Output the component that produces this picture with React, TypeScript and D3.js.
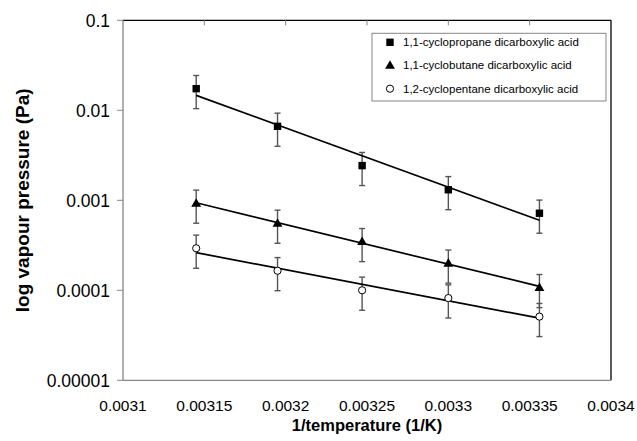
import React, { useRef, useEffect } from "react";
import * as d3 from "d3";

// 1/T for T = 318, 313, 308, 303, 298 K
const invTemp = [0.003145, 0.003195, 0.003247, 0.0033, 0.003356];

const cyclopropane = [0.0174, 0.00664, 0.00243, 0.00131, 0.000718];
const cyclobutane = [0.000927, 0.000555, 0.000347, 0.0002, 0.000107];
const cyclopentane = [0.000293, 0.000165, 0.0001, 0.000082, 0.000051];

const relErr = 0.4;

const xTicks = [0.0031, 0.00315, 0.0032, 0.00325, 0.0033, 0.00335, 0.0034];
const xTickLabels = ["0.0031", "0.00315", "0.0032", "0.00325", "0.0033", "0.00335", "0.0034"];
const yTicks = [0.1, 0.01, 0.001, 0.0001, 0.00001];
const yTickLabels = ["0.1", "0.01", "0.001", "0.0001", "0.00001"];

const seriesNames = [
    "1,1-cyclopropane dicarboxylic acid",
    "1,1-cyclobutane dicarboxylic acid",
    "1,2-cyclopentane dicarboxylic acid",
];
const seriesMarkers = ["square", "triangle", "circle"];

const App: React.FC = () => {
    const svgRef = useRef<SVGSVGElement | null>(null);

    useEffect(() => {
        if (!svgRef.current) return;

        const width = 637;
        const height = 441;
        const left = 123, right = 611, top = 20.3, bottom = 380.3;
        const font = "'Liberation Sans', Arial, sans-serif";

        const x = d3.scaleLinear().domain([0.0031, 0.0034]).range([left, right]);
        const y = d3.scaleLog().domain([0.00001, 0.1]).range([bottom, top]);

        const svg = d3.select(svgRef.current)
            .attr("width", width)
            .attr("height", height)
            .attr("viewBox", `0 0 ${width} ${height}`)
            .style("font-family", font);

        svg.selectAll("*").remove();

        svg.append("rect").attr("width", width).attr("height", height).attr("fill", "#fff");

        // plot frame
        svg.append("line").attr("x1", left).attr("x2", right).attr("y1", top).attr("y2", top)
            .attr("stroke", "#000").attr("stroke-width", 1.3);
        svg.append("line").attr("x1", right).attr("x2", right).attr("y1", top).attr("y2", bottom)
            .attr("stroke", "#000").attr("stroke-width", 1.3);
        svg.append("line").attr("x1", left).attr("x2", left).attr("y1", top).attr("y2", bottom)
            .attr("stroke", "#868686").attr("stroke-width", 1.3);
        svg.append("line").attr("x1", left).attr("x2", right).attr("y1", bottom).attr("y2", bottom)
            .attr("stroke", "#868686").attr("stroke-width", 1.3);

        // x ticks (on top edge, pointing in)
        svg.append("g").selectAll("line").data(xTicks.slice(1, -1)).join("line")
            .attr("x1", d => x(d)).attr("x2", d => x(d))
            .attr("y1", top).attr("y2", top + 5)
            .attr("stroke", "#868686").attr("stroke-width", 1);

        svg.append("g").selectAll("text").data(xTicks).join("text")
            .attr("x", d => x(d)).attr("y", 410.7)
            .attr("text-anchor", "middle")
            .attr("font-size", 15.5)
            .attr("fill", "#000")
            .text((_, i) => xTickLabels[i]);

        // y ticks
        svg.append("g").selectAll("line").data(yTicks).join("line")
            .attr("x1", left - 6).attr("x2", left)
            .attr("y1", d => y(d)).attr("y2", d => y(d))
            .attr("stroke", "#868686").attr("stroke-width", 1);

        svg.append("g").selectAll("text").data(yTicks).join("text")
            .attr("x", 110).attr("y", d => y(d) + 6.3)
            .attr("text-anchor", "end")
            .attr("font-size", 17.5)
            .attr("fill", "#000")
            .text((_, i) => yTickLabels[i]);

        // axis titles
        svg.append("text")
            .attr("x", (left + right) / 2).attr("y", 431)
            .attr("text-anchor", "middle")
            .attr("font-size", 16.5).attr("font-weight", "bold")
            .text("1/temperature (1/K)");

        svg.append("text")
            .attr("transform", `translate(29,${(top + bottom) / 2}) rotate(-90)`)
            .attr("text-anchor", "middle")
            .attr("font-size", 19).attr("font-weight", "bold")
            .text("log vapour pressure (Pa)");

        const allSeries = [cyclopropane, cyclobutane, cyclopentane];

        const drawMarker = (g: d3.Selection<SVGGElement, unknown, null, undefined>, kind: string, cx: number, cy: number) => {
            if (kind === "square") {
                g.append("rect").attr("x", cx - 3.7).attr("y", cy - 3.7).attr("width", 7.4).attr("height", 7.4)
                    .attr("fill", "#000");
            } else if (kind === "triangle") {
                g.append("path").attr("d", d3.symbol(d3.symbolTriangle, 42)())
                    .attr("transform", `translate(${cx},${cy + 0.6})`).attr("fill", "#000");
            } else {
                g.append("circle").attr("cx", cx).attr("cy", cy).attr("r", 3.6)
                    .attr("fill", "#fff").attr("stroke", "#000").attr("stroke-width", 1);
            }
        };

        const plot = svg.append("g");

        allSeries.forEach((vals, s) => {
            // exponential (log-linear) regression
            const logs = vals.map(v => Math.log10(v));
            const mx = d3.mean(invTemp)!;
            const my = d3.mean(logs)!;
            const sxy = d3.sum(invTemp, (xv, i) => (xv - mx) * (logs[i] - my));
            const sxx = d3.sum(invTemp, xv => (xv - mx) ** 2);
            const slope = sxy / sxx;
            const icpt = my - slope * mx;
            const x0 = invTemp[0], x1 = invTemp[invTemp.length - 1];
            const fit: [number, number][] = [x0, x1].map(xv => [x(xv), y(10 ** (icpt + slope * xv))]);

            // error bars
            const eb = plot.append("g").attr("stroke", "#555").attr("stroke-width", 1.4);
            vals.forEach((v, i) => {
                const cx = x(invTemp[i]);
                const yHi = y(v * (1 + relErr));
                const yLo = y(v * (1 - relErr));
                eb.append("line").attr("x1", cx).attr("x2", cx).attr("y1", yHi).attr("y2", yLo);
                eb.append("line").attr("x1", cx - 3).attr("x2", cx + 3).attr("y1", yHi).attr("y2", yHi);
                eb.append("line").attr("x1", cx - 3).attr("x2", cx + 3).attr("y1", yLo).attr("y2", yLo);
            });

            plot.append("path")
                .attr("d", d3.line()(fit)!)
                .attr("stroke", "#000").attr("stroke-width", 1.7).attr("fill", "none");

            const mg = plot.append("g");
            vals.forEach((v, i) => drawMarker(mg, seriesMarkers[s], x(invTemp[i]), y(v)));
        });

        // legend
        const lg = svg.append("g");
        lg.append("rect").attr("x", 372).attr("y", 33.3).attr("width", 234).attr("height", 67.7)
            .attr("fill", "#fff").attr("stroke", "#868686").attr("stroke-width", 1);
        const rowY = [42.3, 65.3, 88.7];
        seriesNames.forEach((name, i) => {
            drawMarker(lg, seriesMarkers[i], 390, rowY[i]);
            lg.append("text").attr("x", 403).attr("y", rowY[i] + 4)
                .attr("font-size", 11.5).attr("fill", "#000").text(name);
        });
    }, []);

    return <svg ref={svgRef} style={{ position: "absolute", left: 0, top: 0 }} />;
};

export default App;
